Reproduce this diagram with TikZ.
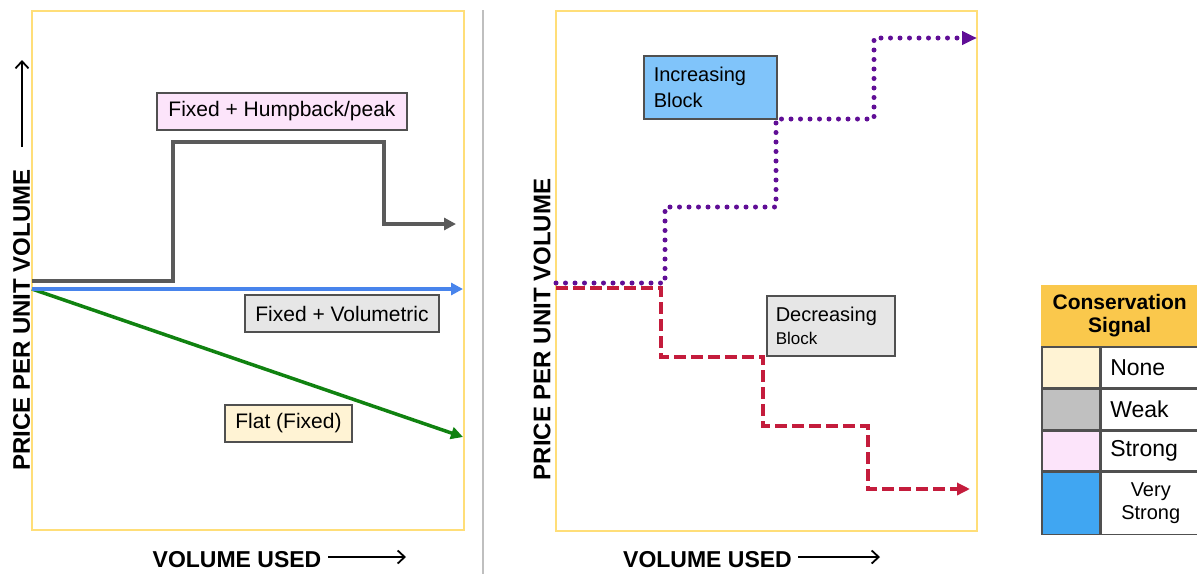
\documentclass[tikz,border=0pt]{standalone}
\usepackage{fontspec}
\setmainfont{Liberation Sans}
\usepackage{tikz}
\usetikzlibrary{positioning,arrows.meta}

\definecolor{framey}{RGB}{255,222,120}
\definecolor{humpgray}{RGB}{90,90,90}
\definecolor{volblue}{RGB}{72,132,236}
\definecolor{flatgreen}{RGB}{16,130,16}
\definecolor{incpurple}{RGB}{96,14,150}
\definecolor{decred}{RGB}{196,28,60}
\definecolor{boxline}{RGB}{80,80,80}
\definecolor{pinkfill}{RGB}{252,228,250}
\definecolor{grayfill}{RGB}{230,230,230}
\definecolor{creamfill}{RGB}{255,243,212}
\definecolor{bluefill}{RGB}{128,196,250}
\definecolor{goldfill}{RGB}{250,200,76}
\definecolor{weakfill}{RGB}{192,192,192}
\definecolor{strongblue}{RGB}{64,166,242}

\begin{document}
\begin{tikzpicture}[x=1pt,y=-1pt,>={Triangle[length=12pt,width=12pt]},
    panel/.style={draw=framey,line width=1.5pt,inner sep=0pt},
    tag/.style={draw=boxline,line width=1.5pt,inner sep=0pt,font=\fontsize{21}{25}\selectfont},
    axislbl/.style={inner sep=0pt,font=\bfseries\fontsize{24}{28}\selectfont},
    axisarrow/.style={-{Straight Barb[length=7pt,width=13pt]},line width=1.8pt},
    swatch/.style={draw=boxline,line width=1.5pt,minimum width=58pt,inner sep=0pt},
    legtext/.style={draw=boxline,line width=1.5pt,inner xsep=9pt,inner ysep=0pt,
        text width=81pt,font=\fontsize{23}{26}\selectfont}]

    \useasboundingbox (0,0) rectangle (1197,574);

    % the two panels and the rule between them
    \node[panel,minimum width=432pt,minimum height=519pt] (lframe) at (248,270.5) {};
    \node[panel,minimum width=421pt,minimum height=520pt] (rframe) at (766.5,271) {};
    \coordinate (divtop) at (483,10);
    \coordinate (divbot) at (483,574);
    \draw[black!25,line width=1.5pt] (divtop) -- (divbot);

    % left: flat, volumetric, humpback
    \coordinate (f0) at (32,289);
    \coordinate (f1) at (463,437);
    \coordinate (v0) at (32,289);
    \coordinate (v1) at (463,289);
    \coordinate (h0) at (32,281);
    \coordinate (h1) at (173,142);
    \coordinate (h2) at (384,224);
    \coordinate (h3) at (456,224);
    \draw[->,flatgreen,line width=3.5pt] (f0) -- (f1);
    \draw[->,volblue,line width=3.5pt] (v0) -- (v1);
    \draw[->,humpgray,line width=3.5pt] (h0) -| (h1) -| (h2) -- (h3);

    \node[tag,fill=pinkfill,minimum width=250pt,minimum height=37pt] (hump) at (282,111.5) {Fixed + Humpback/peak};
    \node[tag,fill=grayfill,minimum width=194pt,minimum height=37pt] (vol) at (342,313.5) {Fixed + Volumetric};
    \node[tag,fill=creamfill,minimum width=127pt,minimum height=37pt] (flat) at (288.5,423.5) {Flat (Fixed)};

    % right: block tariffs
    \coordinate (i0) at (556,283);
    \coordinate (i1) at (665,207);
    \coordinate (i2) at (776,119);
    \coordinate (i3) at (874,38);
    \coordinate (i4) at (977,38);
    \coordinate (d0) at (556,288);
    \coordinate (d1) at (661,357);
    \coordinate (d2) at (763,426);
    \coordinate (d3) at (868,489);
    \coordinate (d4) at (970,489);
    \draw[-{Triangle[length=15pt,width=13pt]},incpurple,line width=5pt,line cap=round,dash pattern=on 0pt off 9.5pt] (i0) -| (i1) -| (i2) -| (i3) -- (i4);
    \draw[-{Triangle[length=13pt,width=12pt]},decred,line width=3.5pt,dash pattern=on 12pt off 5pt] (d0) -| (d1) -| (d2) -| (d3) -- (d4);

    \node[tag,fill=bluefill,anchor=north west,minimum height=63pt,inner xsep=10pt,
        text width=113pt,align=left,font=\fontsize{20}{26}\selectfont] (inc) at (643,55) {Increasing\\Block};
    \node[tag,fill=grayfill,anchor=north west,minimum height=60pt,inner xsep=9pt,
        text width=110pt,align=left,font=\fontsize{20}{23}\selectfont] (dec) at (766,295) {Decreasing\\{\fontsize{17}{20}\selectfont Block}};

    % axis titles
    \node[axislbl,rotate=90] (lylab) at (21.5,320) {PRICE PER UNIT VOLUME};
    \coordinate (lyup0) at (22,147);
    \coordinate (lyup1) at (22,60);
    \draw[axisarrow] (lyup0) -- (lyup1);
    \node[axislbl,rotate=90] (rylab) at (542,329.5) {PRICE PER UNIT VOLUME};

    \node[axislbl,font=\bfseries\fontsize{23}{26}\selectfont] (lxlab) at (237,559.5) {VOLUME USED};
    \coordinate (lxa0) at (328,557);
    \coordinate (lxa1) at (406,557);
    \draw[axisarrow] (lxa0) -- (lxa1);
    \node[axislbl,font=\bfseries\fontsize{23}{26}\selectfont] (rxlab) at (707.5,559.5) {VOLUME USED};
    \coordinate (rxa0) at (798,557);
    \coordinate (rxa1) at (880,557);
    \draw[axisarrow] (rxa0) -- (rxa1);

    % legend
    \node[fill=goldfill,anchor=north west,minimum width=157pt,minimum height=61pt,inner sep=0pt,
        align=center,font=\bfseries\fontsize{21}{23}\selectfont] (leghead) at (1041,285) {Conservation\\Signal};
    \node[swatch,fill=creamfill,anchor=north west,minimum height=41pt] (sw1) at (1041,346) {};
    \node[swatch,fill=weakfill,minimum height=40pt,below=0pt of sw1] (sw2) {};
    \node[swatch,fill=pinkfill,minimum height=40pt,below=0pt of sw2] (sw3) {};
    \node[swatch,fill=strongblue,minimum height=62pt,below=0pt of sw3] (sw4) {};
    \node[legtext,minimum height=41pt,align=left,right=0pt of sw1] (tx1) {None};
    \node[legtext,minimum height=40pt,align=left,right=0pt of sw2] (tx2) {Weak};
    \node[legtext,minimum height=40pt,align=left,right=0pt of sw3] (tx3) {Strong};
    \node[legtext,minimum height=62pt,align=center,right=0pt of sw4,
        font=\fontsize{20}{23}\selectfont] (tx4) {Very\\Strong};

\end{tikzpicture}
\end{document}
